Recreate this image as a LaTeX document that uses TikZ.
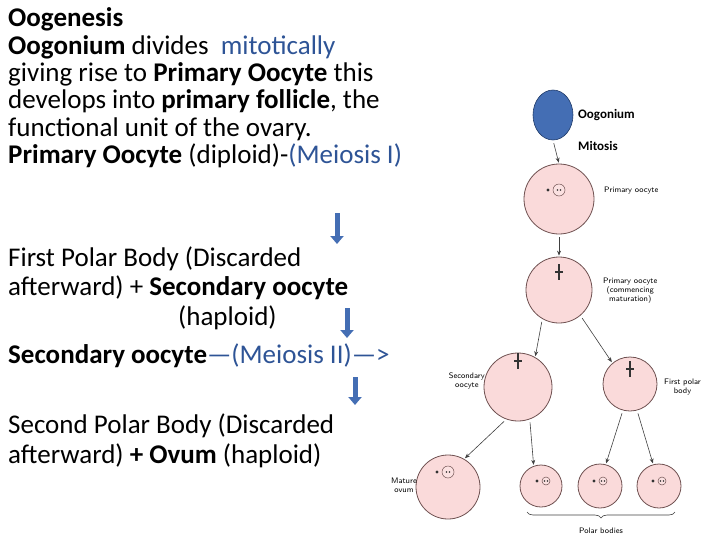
\documentclass[tikz,border=0pt]{standalone}
\usepackage{fontspec}
\setmainfont{Carlito}
\usetikzlibrary{arrows.meta,decorations.pathreplacing,shapes.geometric}
\definecolor{tblue}{RGB}{46,84,150}
\definecolor{ablue}{RGB}{68,110,180}
\definecolor{cellfill}{RGB}{250,218,218}
\definecolor{cellline}{RGB}{110,80,80}
\begin{document}
\begin{tikzpicture}[x=1pt,y=-1pt,
  txt/.style={anchor=base west,inner sep=0,font=\fontsize{27}{30}\selectfont},
  cell/.style={circle,draw=cellline,fill=cellfill,line width=0.8pt,inner sep=0},
  lab/.style={font=\sffamily\fontsize{8}{9}\selectfont,align=center,inner sep=1pt},
  blab/.style={font=\bfseries\fontsize{13}{15}\selectfont,anchor=west,inner sep=0},
  arr/.style={-{Stealth[length=5pt,width=4pt]},line width=0.6pt,draw=black!75,shorten <=3pt,shorten >=1pt},
  barr/.style={-{Triangle[length=8pt,width=13pt]},line width=5pt,draw=ablue}]
\useasboundingbox (0,0) rectangle (720,539);
% left text
\node[txt] (t1) at (8,26) {\textbf{Oogenesis}};
\node[txt] (t2) at (8,54) {\textbf{Oogonium} divides \ \textcolor{tblue}{mitotically}};
\node[txt] (t3) at (8,81) {giving rise to \textbf{Primary Oocyte} this};
\node[txt] (t4) at (8,108) {develops into \textbf{primary follicle}, the};
\node[txt] (t5) at (8,136) {functional unit of the ovary.};
\node[txt] (t6) at (8,163) {\textbf{Primary Oocyte} (diploid)-\textcolor{tblue}{(Meiosis I)}};
\coordinate (a1s) at (337,213); \coordinate (a1e) at (337,244);
\draw[barr] (a1s) -- (a1e);
\node[txt] (t7) at (8,266) {First Polar Body (Discarded};
\node[txt] (t8) at (8,295) {afterward) + \textbf{Secondary oocyte}};
\node[txt] (t9) at (178,325) {(haploid)};
\coordinate (a2s) at (347,308); \coordinate (a2e) at (347,338);
\draw[barr] (a2s) -- (a2e);
\node[txt] (t10) at (8,363) {\textbf{Secondary oocyte}\textcolor{tblue}{—(Meiosis II)—>}};
\coordinate (a3s) at (355,377); \coordinate (a3e) at (355,405);
\draw[barr] (a3s) -- (a3e);
\node[txt] (t11) at (8,433) {Second Polar Body (Discarded};
\node[txt] (t12) at (8,463) {afterward) \textbf{+ Ovum} (haploid)};
% diagram
\node[ellipse,draw=tblue!70!black,fill=ablue,minimum width=40,minimum height=50,inner sep=0,line width=0.6pt] (og) at (553,115) {};
\node[blab] (ogl) at (578,115) {Oogonium};
\node[blab] (mit) at (578,146) {Mitosis};
\node[cell,minimum size=70] (c1) at (559,199) {};
\node[lab,anchor=west] (c1l) at (603,191) {Primary oocyte};
\node[cell,minimum size=66] (c2) at (559,290) {};
\node[lab,anchor=west] (c2l) at (602,291) {Primary oocyte\\(commencing\\maturation)};
\node[cell,minimum size=68] (c3) at (518,387) {};
\node[lab,anchor=east] (c3l) at (486,381) {Secondary\\oocyte};
\node[cell,minimum size=54] (c4) at (630,384) {};
\node[lab,anchor=west] (c4l) at (663,387) {First polar\\body};
\node[cell,minimum size=64] (c5) at (448,487) {};
\node[lab,anchor=east] (c5l) at (418,485) {Mature\\ovum};
\node[cell,minimum size=42] (p1) at (541,486) {};
\node[cell,minimum size=44] (p2) at (600,486) {};
\node[cell,minimum size=44] (p3) at (659,486) {};
% nuclei
\foreach \n/\dx/\dy/\r in {c1/0/-9/6,c5/0/-15/6,p1/5/-5/4,p2/3/-5/4,p3/3/-5/4}{
  \draw[cellline,fill=cellfill!80!white,line width=0.5pt] ([xshift=\dx,yshift=-\dy]\n.center) circle (\r);
  \fill[black!80] ([xshift=\dx-\r-5,yshift=-\dy]\n.center) circle (1.6);
  \fill[black!80] ([xshift=\dx-1.5,yshift=-\dy]\n.center) circle (0.9);
  \fill[black!80] ([xshift=\dx+1.5,yshift=-\dy]\n.center) circle (0.9);
}
% spindles
\foreach \n/\dy in {c2/-18,c3/-26,c4/-15}{
  \draw[black!80,line width=1.4pt] ([yshift=-\dy+8]\n.center) -- ([yshift=-\dy-8]\n.center);
  \draw[black!80,line width=2pt] ([xshift=-4,yshift=-\dy]\n.center) -- ([xshift=4,yshift=-\dy]\n.center);
}
% arrows
\draw[arr] (og.south) -- (c1.north);
\draw[arr] (c1.south) -- (c2.north);
\draw[arr] (c2.-120) -- (c3.60);
\draw[arr] (c2.-50) -- (c4.130);
\draw[arr] (c3.-110) -- (c5.60);
\draw[arr] (c3.-70) -- (p1.110);
\draw[arr] (c4.-105) -- (p2.75);
\draw[arr] (c4.-75) -- (p3.105);
\coordinate (br1) at (527,512); \coordinate (br2) at (675,512);
\draw[decorate,decoration={brace,amplitude=6pt},line width=0.6pt,black!75] (br2) -- (br1);
\node[lab] (pbl) at (601,531) {Polar bodies};
\end{tikzpicture}
\end{document}
